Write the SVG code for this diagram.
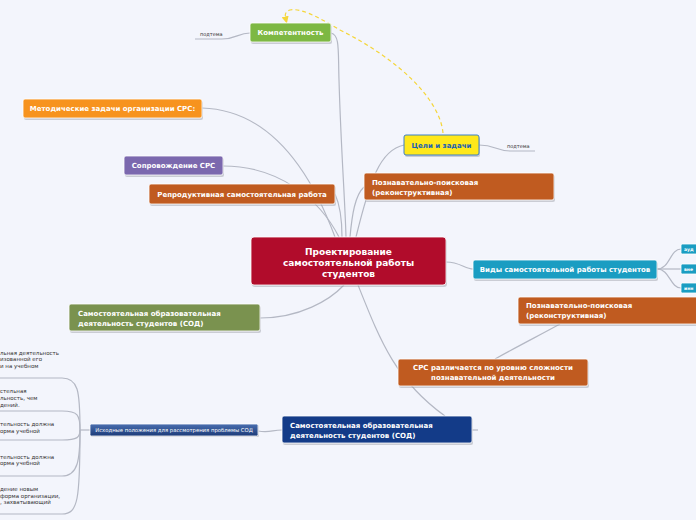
<svg xmlns="http://www.w3.org/2000/svg" width="696" height="520" viewBox="0 0 696 520">
<defs>
<style>
.t{font-family:"DejaVu Sans",Verdana,sans-serif;font-weight:bold;fill:#fff;font-size:7px}
.c{text-anchor:middle}
.s{font-family:"DejaVu Sans",Verdana,sans-serif;font-size:5px;fill:#333}
.l{font-family:"DejaVu Sans",Verdana,sans-serif;font-size:5.5px;fill:#333}
.ln{fill:none;stroke:#b4b8c4;stroke-width:1.2}
.sh{fill:#9a9ca4;opacity:0.45}
.bd{stroke:#fff;stroke-width:0.8}
</style>
<linearGradient id="ng" x1="0" y1="0" x2="0" y2="1"><stop offset="0" stop-color="#4a6fb0"/><stop offset="1" stop-color="#1b3a78"/></linearGradient>
<marker id="ar" viewBox="0 0 10 10" refX="5" refY="5" markerWidth="6" markerHeight="6" orient="auto"><path d="M0,0L10,5L0,10z" fill="#f5d63a"/></marker>
</defs>
<rect width="696" height="520" fill="#f3f5fc"/>
<g id="connectors">
<path class="ln" d="M331,33 C340,35 338,50 339,80 C341,150 345,200 346,237"/>
<path class="ln" d="M202,108 C270,110 310,170 335,237"/>
<path class="ln" d="M223,166 C280,166 320,200 339,237"/>
<path class="ln" d="M335,194 C340,205 342,220 342,237"/>
<path class="ln" d="M364,187 C355,195 352,215 350,237"/>
<path class="ln" d="M404,145 C380,150 370,180 356,237"/>
<path class="ln" d="M446,262 C460,262 465,269 473,269"/>
<path class="ln" d="M344,285 C330,300 300,318 260,318"/>
<path class="ln" d="M358,285 C380,340 395,380 445,416"/>
<path class="ln" d="M495,359 C520,345 540,335 560,324"/>
<path class="ln" d="M472,430 L478,430"/>
<path class="ln" d="M282,430 C272,430 270,433 258,431"/>
<path class="ln" d="M657,269 C670,269 670,249 681,249"/>
<path class="ln" d="M657,269 L681,269"/>
<path class="ln" d="M657,269 C670,269 670,288 681,288"/>
<path class="ln" d="M250,33 C238,33 236,39 222,39 L195,39"/>
<path class="ln" d="M479,145 C495,145 497,151 510,151 L535,151"/>
<path class="ln" d="M90,430 L80,430"/>
<path class="ln" d="M80,430 C80,390 78,378 62,378 L0,378"/>
<path class="ln" d="M80,430 C80,415 78,411 62,411 L0,411"/>
<path class="ln" d="M80,430 C80,437 78,440 62,440 L0,440"/>
<path class="ln" d="M80,430 C80,460 78,476 62,476 L0,476"/>
<path class="ln" d="M80,430 C80,500 78,514 62,514 L0,514"/>
<path d="M443,133 C440,100 400,60 340,30 C315,15 300,8 290,10 C284,12 285,16 286,20" fill="none" stroke="#f5d63a" stroke-width="1.2" stroke-dasharray="4,3" marker-end="url(#ar)"/>
</g>
<g id="center">
<rect class="sh" x="252" y="239" width="195" height="48" rx="3"/>
<rect x="251" y="237" width="195" height="48" rx="3" fill="#b10c2b" class="bd"/>
<text class="t c" x="348.5" y="255" style="font-size:9px">Проектирование</text>
<text class="t c" x="348.5" y="266" style="font-size:9px">самостоятельной работы</text>
<text class="t c" x="348.5" y="277" style="font-size:9px">студентов</text>
</g>
<g id="kompetentnost">
<rect class="sh" x="251" y="25" width="81" height="19" rx="2"/>
<rect x="250" y="23" width="81" height="19" rx="2" fill="#7db843" class="bd"/>
<text class="t c" x="290.5" y="35">Компетентность</text>
</g>
<g id="podtema1"><text class="s" x="200" y="36">подтема</text></g>
<g id="metod">
<rect class="sh" x="24" y="101" width="179" height="19" rx="2"/>
<rect x="23" y="99" width="179" height="19" rx="2" fill="#f7931e" class="bd"/>
<text class="t c" x="112.5" y="111">Методические задачи организации СРС:</text>
</g>
<g id="soprov">
<rect class="sh" x="125" y="158" width="99" height="19" rx="2"/>
<rect x="124" y="156" width="99" height="19" rx="2" fill="#7b68ae" class="bd"/>
<text class="t c" x="173.5" y="168">Сопровождение СРС</text>
</g>
<g id="reprod">
<rect class="sh" x="150" y="186" width="186" height="20" rx="2"/>
<rect x="149" y="184" width="186" height="20" rx="2" fill="#c05b20" class="bd"/>
<text class="t c" x="242" y="197">Репродуктивная самостоятельная работа</text>
</g>
<g id="poznav1">
<rect class="sh" x="365" y="175" width="190" height="27" rx="2"/>
<rect x="364" y="173" width="190" height="27" rx="2" fill="#c05b20" class="bd"/>
<text class="t" x="372" y="185">Познавательно-поисковая</text>
<text class="t" x="372" y="195">(реконструктивная)</text>
</g>
<g id="celi">
<rect class="sh" x="405" y="137" width="75" height="20" rx="2"/>
<rect x="404" y="135" width="75" height="20" rx="2" fill="#ffe81a" stroke="#3a7ec8" stroke-width="1"/>
<text class="t c" x="441.5" y="148" style="fill:#1a5fb4">Цели и задачи</text>
</g>
<g id="podtema2"><text class="s" x="507" y="148">подтема</text></g>
<g id="vidy">
<rect class="sh" x="474" y="262" width="184" height="19" rx="2"/>
<rect x="473" y="260" width="184" height="19" rx="2" fill="#1a9dc2" class="bd"/>
<text class="t c" x="565" y="272">Виды самостоятельной работы студентов</text>
</g>
<g id="aud">
<rect x="681" y="244" width="20" height="10" rx="1.5" fill="#1a9dc2" class="bd"/>
<text class="t" x="684" y="251" style="font-size:4.5px">ауд</text>
</g>
<g id="vne">
<rect x="681" y="264" width="20" height="10" rx="1.5" fill="#1a9dc2" class="bd"/>
<text class="t" x="684" y="271" style="font-size:4.5px">вне</text>
</g>
<g id="inn">
<rect x="681" y="283" width="20" height="10" rx="1.5" fill="#1a9dc2" class="bd"/>
<text class="t" x="684" y="290" style="font-size:4.5px">инн</text>
</g>
<g id="poznav2">
<rect class="sh" x="519" y="299" width="190" height="27" rx="2"/>
<rect x="518" y="297" width="190" height="27" rx="2" fill="#c05b20" class="bd"/>
<text class="t" x="526" y="308">Познавательно-поисковая</text>
<text class="t" x="526" y="318">(реконструктивная)</text>
</g>
<g id="srs">
<rect class="sh" x="399" y="361" width="190" height="27" rx="2"/>
<rect x="398" y="359" width="190" height="27" rx="2" fill="#c05b20" class="bd"/>
<text class="t c" x="493" y="370">СРС различается по уровню сложности</text>
<text class="t c" x="493" y="380">познавательной деятельности</text>
</g>
<g id="sod1">
<rect class="sh" x="70" y="306" width="191" height="27" rx="2"/>
<rect x="69" y="304" width="191" height="27" rx="2" fill="#7a924f" class="bd"/>
<text class="t" x="78" y="316">Самостоятельная образовательная</text>
<text class="t" x="78" y="326">деятельность студентов (СОД)</text>
</g>
<g id="sod2">
<rect class="sh" x="283" y="418" width="190" height="27" rx="2"/>
<rect x="282" y="416" width="190" height="27" rx="2" fill="#133b88" class="bd"/>
<text class="t" x="290" y="428">Самостоятельная образовательная</text>
<text class="t" x="290" y="438">деятельность студентов (СОД)</text>
</g>
<g id="ishod">
<rect class="sh" x="91" y="425" width="168" height="12" rx="1.5"/>
<rect x="90" y="424" width="168" height="12" rx="1.5" fill="url(#ng)" class="bd"/>
<text class="t c" x="174" y="432" style="font-size:5.3px;font-weight:normal">Исходные положения для рассмотрения проблемы СОД</text>
</g>
<g id="left-items">
<text class="l" x="0" y="355">льная деятельность</text>
<text class="l" x="0" y="361">изованной его</text>
<text class="l" x="0" y="368">и на учебном</text>
<text class="l" x="0" y="393">стельная</text>
<text class="l" x="0" y="400">льность, чем</text>
<text class="l" x="0" y="407">дений.</text>
<text class="l" x="0" y="426">тельность должна</text>
<text class="l" x="0" y="433">орма учебной</text>
<text class="l" x="0" y="459">тельность должна</text>
<text class="l" x="0" y="465">орма учебной</text>
<text class="l" x="0" y="491">дение новым</text>
<text class="l" x="0" y="498">форма организации,</text>
<text class="l" x="0" y="504">, захватывающий</text>
</g>
</svg>
